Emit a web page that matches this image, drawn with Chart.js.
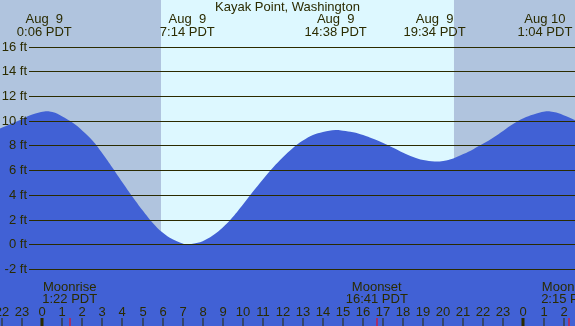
<!DOCTYPE html>
<html>
<head>
<meta charset="utf-8">
<script src="https://cdn.jsdelivr.net/npm/chart.js@4/dist/chart.umd.min.js"></script>
<style>
  html, body { margin: 0; padding: 0; background: #ddf8ff; }
  #wrap { width: 575px; height: 326px; }
</style>
</head>
<body>
<div id="wrap"><canvas id="tideChart"></canvas></div>
<script>
// hours after midnight Aug 9 (PDT) and tide height in feet
const tideHours = [-3, -2.5, -2, -1.5, -1, -0.5, 0.1, 0.5, 1, 1.5, 2, 2.5, 3, 3.5, 4, 4.5, 5, 5.5, 6, 6.5, 7, 7.23,
  7.5, 8, 8.5, 9, 9.5, 10, 10.5, 11, 11.5, 12, 12.5, 13, 13.5, 14, 14.63,
  15, 15.5, 16, 16.5, 17, 17.5, 18, 18.5, 19, 19.57,
  20, 20.5, 21, 21.5, 22, 22.5, 23, 23.5, 24, 24.5, 25.07, 25.5, 26, 26.5, 27];
const tideFeet  = [8.75, 9.1, 9.45, 9.8, 10.15, 10.5, 10.75, 10.7, 10.35, 9.85, 9.2, 8.4, 7.35, 6.2, 5.0, 3.85, 2.75, 1.75, 0.95, 0.4, 0.07, 0.0,
  0.05, 0.25, 0.7, 1.35, 2.2, 3.2, 4.25, 5.25, 6.2, 7.05, 7.8, 8.4, 8.85, 9.1, 9.25,
  9.2, 9.07, 8.85, 8.55, 8.2, 7.82, 7.42, 7.07, 6.82, 6.7,
  6.75, 6.95, 7.3, 7.7, 8.15, 8.65, 9.2, 9.75, 10.2, 10.5, 10.75, 10.7, 10.45, 10.1, 9.65];

// highs and lows shown across the top
const extremeHours  = [0.1, 7.233, 14.633, 19.567, 25.067];
const extremeLabels = [['Aug  9', '0:06 PDT'], ['Aug  9', '7:14 PDT'], ['Aug  9', '14:38 PDT'], ['Aug  9', '19:34 PDT'], ['Aug 10', '1:04 PDT']];

// moon events along the bottom
const moonHours  = [1.367, 16.683, 26.25];
const moonLabels = [['Moonrise', '1:22 PDT'], ['Moonset', '16:41 PDT'], ['Moonrise', '2:15 PDT']];

// daylight
const sunriseHour = 5.92;
const sunsetHour  = 20.53;

const footTicks = [-2, 0, 2, 4, 6, 8, 10, 12, 14, 16];
const hourTicks = [-2, -1, 0, 1, 2, 3, 4, 5, 6, 7, 8, 9, 10, 11, 12, 13, 14, 15, 16, 17, 18, 19, 20, 21, 22, 23, 24, 25, 26];

const ink = '#2b2b00';
const font = '13px "Liberation Sans", Arial, sans-serif';

const decorations = {
  id: 'decorations',
  beforeDatasetsDraw(chart) {
    const { ctx, chartArea: a, scales: { x } } = chart;
    ctx.save();
    ctx.fillStyle = '#b0c4de';
    const xr = x.getPixelForValue(sunriseHour);
    const xs = x.getPixelForValue(sunsetHour);
    ctx.fillRect(a.left, a.top, xr - a.left, a.bottom - a.top);
    ctx.fillRect(xs, a.top, a.right - xs, a.bottom - a.top);
    ctx.fillStyle = '#ddf8ff';
    ctx.fillRect(xr, a.top, xs - xr, a.bottom - a.top);
    ctx.restore();
  },
  afterDatasetsDraw(chart) {
    const { ctx, chartArea: a, scales: { x, y } } = chart;
    ctx.save();
    ctx.font = font;
    ctx.fillStyle = ink;
    ctx.strokeStyle = ink;
    ctx.lineWidth = 1;

    // depth lines and labels
    ctx.textAlign = 'right';
    ctx.textBaseline = 'middle';
    footTicks.forEach(v => {
      const py = Math.round(y.getPixelForValue(v)) + 0.5;
      ctx.beginPath();
      ctx.moveTo(29, py);
      ctx.lineTo(a.right, py);
      ctx.stroke();
      ctx.fillText(v + ' ft', 27, py);
    });

    // title and tide times
    ctx.textAlign = 'center';
    ctx.fillText('Kayak Point, Washington', (a.left + a.right) / 2, a.top + 7);
    extremeHours.forEach((h, i) => {
      const px = x.getPixelForValue(h);
      ctx.fillText(extremeLabels[i][0], px, a.top + 19);
      ctx.fillText(extremeLabels[i][1], px, a.top + 32);
    });

    // hour ticks
    hourTicks.forEach(h => {
      const px = Math.round(x.getPixelForValue(h));
      const label = String(((h % 24) + 24) % 24);
      ctx.fillText(label, px, a.bottom - 14);
      if (label === '0') {
        ctx.fillRect(px - 1.5, a.bottom - 8, 3, 8);
      } else {
        ctx.fillRect(px - 0.5, a.bottom - 8, 1, 8);
      }
    });

    // moon events
    moonHours.forEach((h, i) => {
      const px = x.getPixelForValue(h);
      ctx.fillStyle = ink;
      ctx.fillText(moonLabels[i][0], px, a.bottom - 39);
      ctx.fillText(moonLabels[i][1], px, a.bottom - 27);
      ctx.fillStyle = '#ff0000';
      ctx.fillRect(Math.round(px) - 0.5, a.bottom - 8, 1, 8);
    });
    ctx.restore();
  }
};

const ctx = document.getElementById('tideChart').getContext('2d');
new Chart(ctx, {
  type: 'line',
  data: {
    datasets: [{
      data: tideHours.map((h, i) => ({ x: h, y: tideFeet[i] })),
      borderColor: '#4161d5',
      borderWidth: 0,
      backgroundColor: '#4161d5',
      fill: 'start',
      pointRadius: 0,
      tension: 0.4
    }]
  },
  options: {
    responsive: true,
    maintainAspectRatio: false,
    animation: false,
    layout: { padding: 0 },
    plugins: {
      legend: { display: false },
      tooltip: { enabled: false }
    },
    scales: {
      x: { type: 'linear', min: -2.11, max: 26.57, display: false },
      y: { min: -6.62, max: 19.78, display: false }
    }
  },
  plugins: [decorations]
});
</script>
</body>
</html>
